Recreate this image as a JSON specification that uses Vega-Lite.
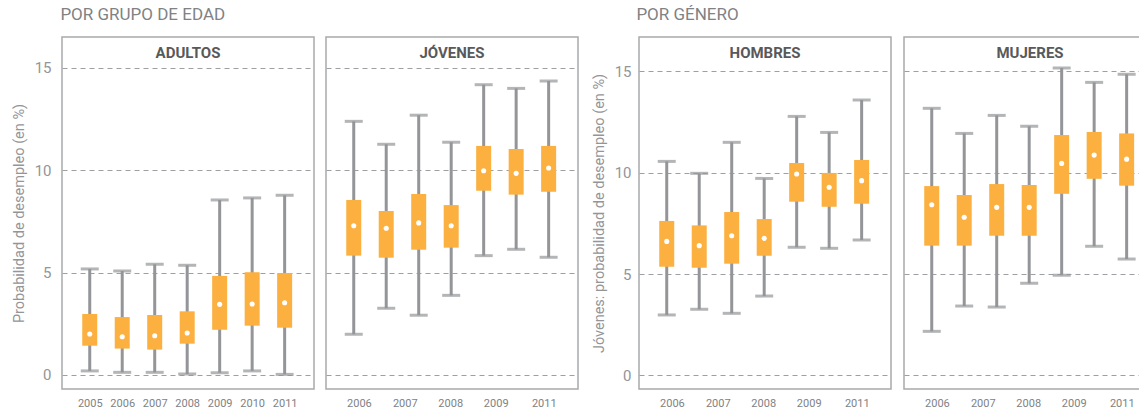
{
  "$schema": "https://vega.github.io/schema/vega-lite/v6.json",
  "padding": {"left": 10, "top": 6, "right": 0, "bottom": 0},
  "autosize": {"type": "pad"},
  "spacing": 11,
  "config": {
    "font": "Roboto",
    "view": {"stroke": "#a7a9ac", "strokeWidth": 1.5},
    "axisX": {"ticks": false, "domain": false, "grid": false, "title": null, "labelFontSize": 11, "labelColor": "#808285", "labelPadding": 8},
    "axisY": {"ticks": false, "domain": false, "grid": true, "gridDash": [5, 4], "gridColor": "#9d9fa2", "gridWidth": 1.2, "labelFontSize": 15, "labelColor": "#939598", "labelPadding": 11, "titleFontSize": 14.5, "titleFontWeight": "normal", "titleColor": "#939598", "titlePadding": 8},
    "title": {"fontSize": 15, "fontWeight": "bold", "color": "#58595b", "offset": -24}
  },
  "datasets": {
    "adultos": [
      {"year": 2005, "lo": 0.20, "q1": 1.43, "mid": 2.00, "q3": 2.98, "hi": 5.18},
      {"year": 2006, "lo": 0.13, "q1": 1.29, "mid": 1.87, "q3": 2.83, "hi": 5.08},
      {"year": 2007, "lo": 0.13, "q1": 1.24, "mid": 1.92, "q3": 2.93, "hi": 5.41},
      {"year": 2008, "lo": 0.05, "q1": 1.53, "mid": 2.05, "q3": 3.11, "hi": 5.36},
      {"year": 2009, "lo": 0.11, "q1": 2.21, "mid": 3.45, "q3": 4.84, "hi": 8.55},
      {"year": 2010, "lo": 0.20, "q1": 2.41, "mid": 3.47, "q3": 5.02, "hi": 8.65},
      {"year": 2011, "lo": 0.03, "q1": 2.31, "mid": 3.53, "q3": 4.98, "hi": 8.78}
    ],
    "jovenes": [
      {"year": 2005, "lo": 1.99, "q1": 5.83, "mid": 7.29, "q3": 8.55, "hi": 12.39},
      {"year": 2006, "lo": 3.26, "q1": 5.73, "mid": 7.17, "q3": 8.01, "hi": 11.27},
      {"year": 2007, "lo": 2.92, "q1": 6.12, "mid": 7.43, "q3": 8.84, "hi": 12.69},
      {"year": 2008, "lo": 3.89, "q1": 6.22, "mid": 7.29, "q3": 8.30, "hi": 11.37},
      {"year": 2009, "lo": 5.83, "q1": 9.00, "mid": 9.98, "q3": 11.19, "hi": 14.18},
      {"year": 2010, "lo": 6.14, "q1": 8.81, "mid": 9.85, "q3": 11.04, "hi": 14.00},
      {"year": 2011, "lo": 5.75, "q1": 8.95, "mid": 10.11, "q3": 11.19, "hi": 14.36}
    ],
    "hombres": [
      {"year": 2005, "lo": 2.98, "q1": 5.36, "mid": 6.61, "q3": 7.62, "hi": 10.56},
      {"year": 2006, "lo": 3.26, "q1": 5.31, "mid": 6.40, "q3": 7.40, "hi": 9.97},
      {"year": 2007, "lo": 3.06, "q1": 5.51, "mid": 6.89, "q3": 8.06, "hi": 11.50},
      {"year": 2008, "lo": 3.91, "q1": 5.90, "mid": 6.76, "q3": 7.71, "hi": 9.72},
      {"year": 2009, "lo": 6.32, "q1": 8.57, "mid": 9.94, "q3": 10.48, "hi": 12.78},
      {"year": 2010, "lo": 6.27, "q1": 8.32, "mid": 9.28, "q3": 9.99, "hi": 11.99},
      {"year": 2011, "lo": 6.68, "q1": 8.47, "mid": 9.61, "q3": 10.63, "hi": 13.59}
    ],
    "mujeres": [
      {"year": 2005, "lo": 2.17, "q1": 6.40, "mid": 8.42, "q3": 9.34, "hi": 13.18},
      {"year": 2006, "lo": 3.42, "q1": 6.40, "mid": 7.80, "q3": 8.90, "hi": 11.94},
      {"year": 2007, "lo": 3.37, "q1": 6.89, "mid": 8.29, "q3": 9.44, "hi": 12.83},
      {"year": 2008, "lo": 4.54, "q1": 6.89, "mid": 8.29, "q3": 9.39, "hi": 12.29},
      {"year": 2009, "lo": 4.94, "q1": 8.96, "mid": 10.46, "q3": 11.86, "hi": 15.17},
      {"year": 2010, "lo": 6.37, "q1": 9.70, "mid": 10.87, "q3": 12.01, "hi": 14.46},
      {"year": 2011, "lo": 5.74, "q1": 9.36, "mid": 10.67, "q3": 11.94, "hi": 14.86}
    ]
  },
  "hconcat": [
    {
      "title": {"text": "POR GRUPO DE EDAD", "anchor": "start", "fontSize": 17, "fontWeight": "normal", "color": "#808285", "offset": 12, "dx": 50},
      "spacing": 10,
      "hconcat": [
        {
          "width": 252, "height": 352,
          "title": "ADULTOS",
          "data": {"name": "adultos"},
          "encoding": {
            "x": {"field": "year", "type": "quantitative", "scale": {"domain": [2004.3, 2011.75], "nice": false, "zero": false}, "axis": {"values": [2005, 2006, 2007, 2008, 2009, 2010, 2011], "format": "d"}}
          },
          "layer": [
            {"mark": {"type": "rule", "color": "#939598", "strokeWidth": 3},
             "encoding": {"y": {"field": "lo", "type": "quantitative", "scale": {"domain": [-0.684, 16.51], "nice": false, "zero": false}, "axis": {"values": [0, 5, 10, 15], "labelFontSize": 15, "labelPadding": 11, "title": "Probabilidad de desempleo (en %)"}}, "y2": {"field": "hi"}}},
            {"mark": {"type": "tick", "orient": "horizontal", "size": 18, "thickness": 3, "color": "#939598"}, "encoding": {"y": {"field": "lo", "type": "quantitative"}}},
            {"mark": {"type": "tick", "orient": "horizontal", "size": 18, "thickness": 3, "color": "#939598"}, "encoding": {"y": {"field": "hi", "type": "quantitative"}}},
            {"mark": {"type": "bar", "width": 15, "color": "#fbb040"}, "encoding": {"y": {"field": "q1", "type": "quantitative"}, "y2": {"field": "q3"}}},
            {"mark": {"type": "circle", "size": 26, "color": "#ffffff", "opacity": 1}, "encoding": {"y": {"field": "mid", "type": "quantitative"}}}
          ]
        },
        {
          "width": 252, "height": 352,
          "title": "JÓVENES",
          "data": {"name": "jovenes"},
          "encoding": {
            "x": {"field": "year", "type": "quantitative", "scale": {"domain": [2004.3, 2011.75], "nice": false, "zero": false}, "axis": {"values": [2005.16, 2006.57, 2007.97, 2009.37, 2010.85], "labelExpr": "datum.value < 2006 ? '2006' : datum.value < 2007 ? '2007' : datum.value < 2009 ? '2008' : datum.value < 2010 ? '2009' : '2011'"}}
          },
          "layer": [
            {"mark": {"type": "rule", "color": "#939598", "strokeWidth": 3},
             "encoding": {"y": {"field": "lo", "type": "quantitative", "scale": {"domain": [-0.684, 16.51], "nice": false, "zero": false}, "axis": {"values": [0, 5, 10, 15], "title": null, "labels": false}}, "y2": {"field": "hi"}}},
            {"mark": {"type": "tick", "orient": "horizontal", "size": 18, "thickness": 3, "color": "#939598"}, "encoding": {"y": {"field": "lo", "type": "quantitative"}}},
            {"mark": {"type": "tick", "orient": "horizontal", "size": 18, "thickness": 3, "color": "#939598"}, "encoding": {"y": {"field": "hi", "type": "quantitative"}}},
            {"mark": {"type": "bar", "width": 15, "color": "#fbb040"}, "encoding": {"y": {"field": "q1", "type": "quantitative"}, "y2": {"field": "q3"}}},
            {"mark": {"type": "circle", "size": 26, "color": "#ffffff", "opacity": 1}, "encoding": {"y": {"field": "mid", "type": "quantitative"}}}
          ]
        }
      ]
    },
    {
      "title": {"text": "POR GÉNERO", "anchor": "start", "fontSize": 17, "fontWeight": "normal", "color": "#808285", "offset": 12, "dx": 46},
      "spacing": 11,
      "hconcat": [
        {
          "width": 252, "height": 352,
          "title": "HOMBRES",
          "data": {"name": "hombres"},
          "encoding": {
            "x": {"field": "year", "type": "quantitative", "scale": {"domain": [2004.3, 2011.75], "nice": false, "zero": false}, "axis": {"values": [2005.16, 2006.57, 2007.97, 2009.37, 2010.85], "labelExpr": "datum.value < 2006 ? '2006' : datum.value < 2007 ? '2007' : datum.value < 2009 ? '2008' : datum.value < 2010 ? '2009' : '2011'"}}
          },
          "layer": [
            {"mark": {"type": "rule", "color": "#939598", "strokeWidth": 3},
             "encoding": {"y": {"field": "lo", "type": "quantitative", "scale": {"domain": [-0.676, 16.70], "nice": false, "zero": false}, "axis": {"values": [0, 5, 10, 15], "labelFontSize": 15, "title": "Jóvenes: probabilidad de desempleo (en %)", "labelPadding": 8}}, "y2": {"field": "hi"}}},
            {"mark": {"type": "tick", "orient": "horizontal", "size": 18, "thickness": 3, "color": "#939598"}, "encoding": {"y": {"field": "lo", "type": "quantitative"}}},
            {"mark": {"type": "tick", "orient": "horizontal", "size": 18, "thickness": 3, "color": "#939598"}, "encoding": {"y": {"field": "hi", "type": "quantitative"}}},
            {"mark": {"type": "bar", "width": 15, "color": "#fbb040"}, "encoding": {"y": {"field": "q1", "type": "quantitative"}, "y2": {"field": "q3"}}},
            {"mark": {"type": "circle", "size": 26, "color": "#ffffff", "opacity": 1}, "encoding": {"y": {"field": "mid", "type": "quantitative"}}}
          ]
        },
        {
          "width": 252, "height": 352,
          "title": "MUJERES",
          "data": {"name": "mujeres"},
          "encoding": {
            "x": {"field": "year", "type": "quantitative", "scale": {"domain": [2004.3, 2011.75], "nice": false, "zero": false}, "axis": {"values": [2005.16, 2006.57, 2007.97, 2009.37, 2010.85], "labelExpr": "datum.value < 2006 ? '2006' : datum.value < 2007 ? '2007' : datum.value < 2009 ? '2008' : datum.value < 2010 ? '2009' : '2011'"}}
          },
          "layer": [
            {"mark": {"type": "rule", "color": "#939598", "strokeWidth": 3},
             "encoding": {"y": {"field": "lo", "type": "quantitative", "scale": {"domain": [-0.676, 16.70], "nice": false, "zero": false}, "axis": {"values": [0, 5, 10, 15], "title": null, "labels": false}}, "y2": {"field": "hi"}}},
            {"mark": {"type": "tick", "orient": "horizontal", "size": 18, "thickness": 3, "color": "#939598"}, "encoding": {"y": {"field": "lo", "type": "quantitative"}}},
            {"mark": {"type": "tick", "orient": "horizontal", "size": 18, "thickness": 3, "color": "#939598"}, "encoding": {"y": {"field": "hi", "type": "quantitative"}}},
            {"mark": {"type": "bar", "width": 15, "color": "#fbb040"}, "encoding": {"y": {"field": "q1", "type": "quantitative"}, "y2": {"field": "q3"}}},
            {"mark": {"type": "circle", "size": 26, "color": "#ffffff", "opacity": 1}, "encoding": {"y": {"field": "mid", "type": "quantitative"}}}
          ]
        }
      ]
    }
  ]
}
